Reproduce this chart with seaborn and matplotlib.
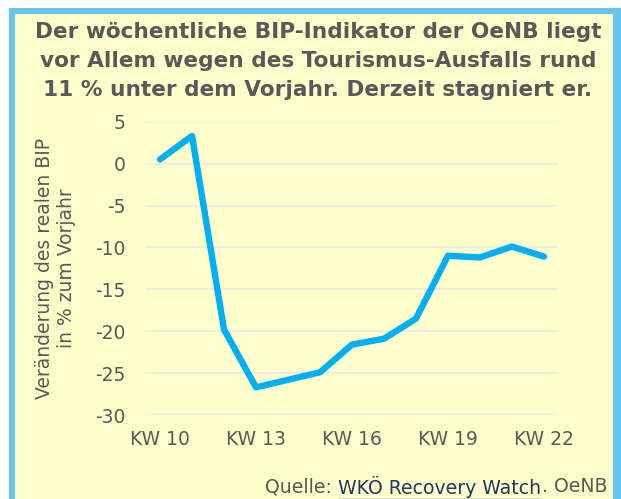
"""
OeNB wöchentlicher BIP-Indikator - Nachbau der Grafik
"""

import matplotlib
matplotlib.use('Agg')
import matplotlib.pyplot as plt
import seaborn as sns
import pandas as pd
from matplotlib.patches import Rectangle
from matplotlib.lines import Line2D

# ============================================================================
# Daten
# ============================================================================
kalenderwochen = [10, 11, 12, 13, 14, 15, 16, 17, 18, 19, 20, 21, 22]
bip_veraenderung = [0.5, 3.3, -19.8, -26.7, -25.8, -24.9, -21.6, -20.9,
                    -18.5, -11.0, -11.2, -9.9, -11.1]
tick_wochen = [10, 13, 16, 19, 22]
tick_labels = ['KW 10', 'KW 13', 'KW 16', 'KW 19', 'KW 22']
y_ticks = [5, 0, -5, -10, -15, -20, -25, -30]

df = pd.DataFrame({'KW': kalenderwochen, 'BIP': bip_veraenderung})

# Farben
GELB = '#FFFFCC'
RAHMEN = '#66C4EE'
LINIE = '#00B0F0'
TEXT = '#595959'
LINK = '#1F3864'

sns.set_theme(style='white')
plt.rcParams['font.family'] = ['DejaVu Sans']

W, H = 621, 499
fig = plt.figure(figsize=(W / 100, H / 100), dpi=100, facecolor='white')

# Rahmen + Hintergrund (Pixelkoordinaten -> Figure-Anteile)
fig.patches.append(Rectangle((9 / W, 0), 1.0, 1 - 8 / H, transform=fig.transFigure,
                             facecolor=RAHMEN, edgecolor='none', zorder=-2))
fig.patches.append(Rectangle((15 / W, 0), (613 - 15) / W, 1 - 14 / H,
                             transform=fig.transFigure,
                             facecolor=GELB, edgecolor='none', zorder=-1))

ax = fig.add_axes([145 / W, 1 - 415 / H, (558 - 145) / W, (415 - 121.7) / H])
ax.set_facecolor('none')

sns.lineplot(data=df, x='KW', y='BIP', color=LINIE, linewidth=4.6, ax=ax,
             solid_capstyle='round', solid_joinstyle='round')

ax.set_xlim(9.53, 22.44)
ax.set_ylim(-30, 5)
ax.set_yticks(y_ticks)
ax.set_yticklabels([str(v) for v in y_ticks])
ax.set_xticks(tick_wochen)
ax.set_xticklabels(tick_labels)
ax.tick_params(axis='y', length=0, pad=14, labelsize=13.5, labelcolor=TEXT)
ax.tick_params(axis='x', length=0, pad=11, labelsize=13.5, labelcolor=TEXT)
ax.grid(True, axis='y', color='#EDEDE4', linewidth=1.6)
ax.grid(False, axis='x')
for s in ax.spines.values():
    s.set_visible(False)

ax.set_xlabel('')
ax.set_ylabel('Veränderung des realen BIP\nin % zum Vorjahr', fontsize=13.5,
              color=TEXT, linespacing=1.2, labelpad=14)

# Titel
fig.text(318 / W, 1 - 61 / H,
         'Der wöchentliche BIP-Indikator der OeNB liegt\n'
         'vor Allem wegen des Tourismus-Ausfalls rund\n'
         '11 % unter dem Vorjahr. Derzeit stagniert er.',
         ha='center', va='center', fontsize=15.6, fontweight='bold',
         color=TEXT, linespacing=1.55)

# Quellenangabe (drei Teile, mittlerer unterstrichen)
fig.canvas.draw()
renderer = fig.canvas.get_renderer()
y_q = 1 - 487 / H
t3 = fig.text(607 / W, y_q, '. OeNB', ha='right', va='center', fontsize=13.6, color=TEXT)
b3 = t3.get_window_extent(renderer)
t2 = fig.text(b3.x0 / W, y_q, 'WKÖ Recovery Watch', ha='right', va='center',
              fontsize=13.6, color=LINK)
b2 = t2.get_window_extent(renderer)
t1 = fig.text(b2.x0 / W, y_q, 'Quelle: ', ha='right', va='center', fontsize=13.6, color=TEXT)
fig.lines.append(Line2D([b2.x0 / W, b2.x1 / W], [(b2.y0 - 1) / H, (b2.y0 - 1) / H],
                        transform=fig.transFigure, color=LINK, linewidth=1.0))

plt.savefig('out.png', dpi=100)
print('gespeichert: out.png')
